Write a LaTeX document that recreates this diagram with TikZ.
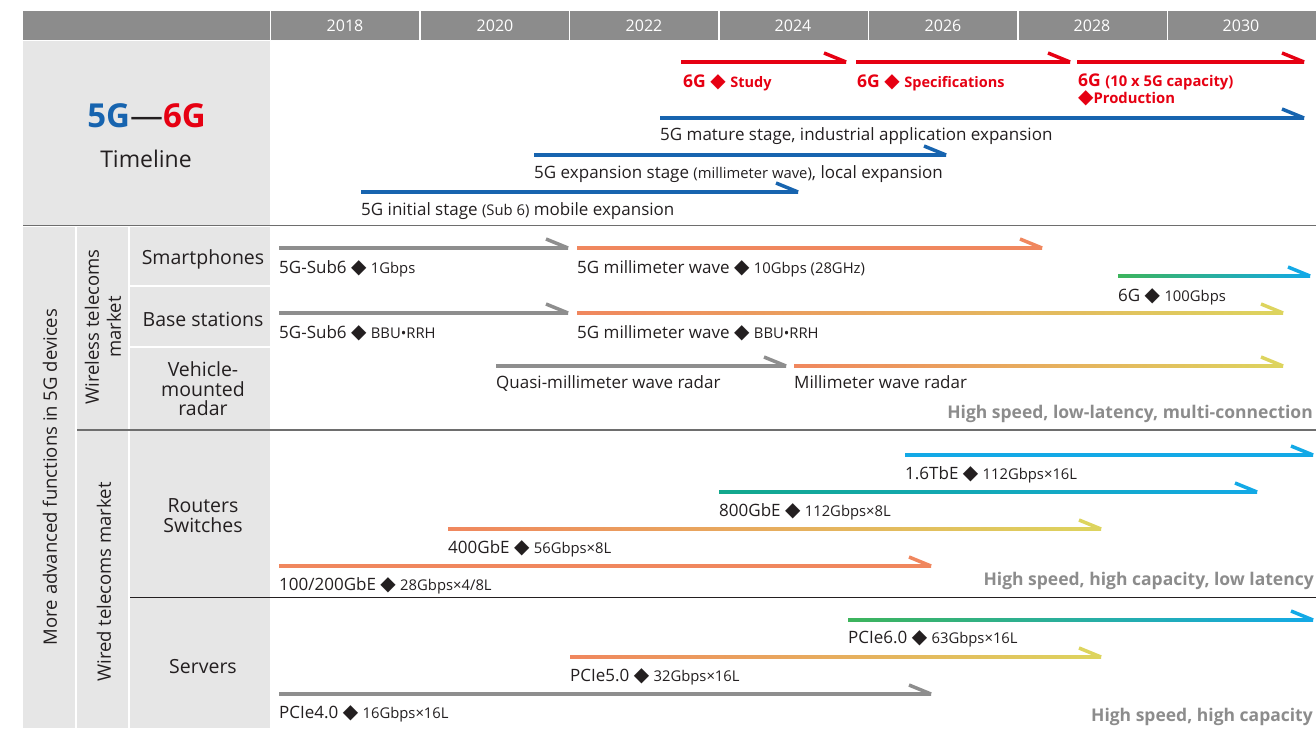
\documentclass[tikz,border=0pt]{standalone}
\usepackage{fontspec}
\setmainfont{Open Sans}
\newfontfamily\symf{DejaVu Sans}
\usetikzlibrary{calc}
\definecolor{hdr}{HTML}{8C8C8C}
\definecolor{panel}{HTML}{E6E6E6}
\definecolor{fgblue}{HTML}{1764AF}
\definecolor{fgred}{HTML}{E60012}
\definecolor{agray}{HTML}{8E8E8E}
\definecolor{aorange}{HTML}{F0875E}
\definecolor{ayellow}{HTML}{DDD45E}
\definecolor{agreen}{HTML}{3DB45C}
\definecolor{ateal}{HTML}{12A88C}
\definecolor{ablue}{HTML}{13A9E6}
\definecolor{txtgray}{HTML}{8C8C8C}
\definecolor{txt}{HTML}{231F20}
\definecolor{rule}{HTML}{6E6E6E}
\newcommand{\dm}{{\symf\fontsize{20}{15}\selectfont ◆}}
\newcommand{\sm}[1]{{\fontsize{14.8}{15}\selectfont #1}}
\newcommand{\tbar}[6]{%
  \coordinate (#1-s) at (#2,#4);
  \coordinate (#1-e) at (#3,#4);
  \shade[left color=#5,right color=#6] ($(#1-s)+(0,-1.75)$) rectangle ($(#1-e)+(0,1.75)$);
  \draw[#6,line width=3.5pt] (#1-e) -- ++(-22,-9);
}
\begin{document}
\begin{tikzpicture}[x=1pt,y=-1pt,
  lbl/.style={anchor=base west,inner sep=0pt,font=\fontsize{17}{20}\selectfont,text=txt},
  hyear/.style={text=white,font=\fontsize{16}{18}\selectfont,inner sep=0pt},
  rowlbl/.style={align=center,font=\fontsize{19.5}{20}\selectfont,text=txt,inner sep=0pt},
  redlbl/.style={anchor=base west,inner sep=0pt,font=\bfseries\fontsize{17.5}{18}\selectfont,text=fgred,align=left},
  note/.style={anchor=base east,inner sep=0pt,font=\bfseries\fontsize{17.5}{19}\selectfont,text=txtgray},
]
\useasboundingbox (0,0) rectangle (1316,728);
% header
\fill[hdr] (23,11) rectangle (1316,40);
\foreach \x in {270.5,420,569.5,719,868.5,1018,1167.5}
  \draw[white,line width=1.5pt] (\x,11) -- (\x,40);
\foreach \yr/\x in {2018/345,2020/495,2022/644,2024/793,2026/943,2028/1092,2030/1241}
  \node[hyear] (y\yr) at (\x,26) {\yr};
% left panels
\fill[panel] (23,41) rectangle (270,225);
\fill[panel] (23,227) rectangle (75,728);
\fill[panel] (77,227) rectangle (128,728);
\fill[panel] (130,227) rectangle (270,728);
\draw[white,line width=2pt] (130,286) -- (270,286);
\draw[white,line width=2pt] (130,347) -- (270,347);
\draw[rule,line width=1.5pt] (23,225.5) -- (1316,225.5);
\draw[rule,line width=1.5pt] (77,430) -- (1316,430);
\draw[txt,line width=0.8pt] (130,597) -- (1316,597);
% title
\node[font=\bfseries\fontsize{33}{36}\selectfont,anchor=base,inner sep=0pt] (title) at (146.5,127.5)
  {\textcolor{fgblue}{5G}\textcolor{txt}{\mdseries—}\textcolor{fgred}{6G}};
\node[font=\fontsize{23}{24}\selectfont,anchor=base,inner sep=0pt,text=txt] (tline) at (146,167) {Timeline};
% left labels
\node[rowlbl,rotate=90,font=\fontsize{18.5}{20}\selectfont] (more) at (50,477) {More advanced functions in 5G devices};
\node[rowlbl,rotate=90,font=\fontsize{18.5}{22}\selectfont] (wless) at (103,327) {Wireless telecoms\\market};
\node[rowlbl,rotate=90,font=\fontsize{18.5}{20}\selectfont] (wired) at (104,582) {Wired telecoms market};
\node[rowlbl] (smart) at (203,259) {Smartphones};
\node[rowlbl] (base) at (203,319) {Base stations};
\node[rowlbl,font=\fontsize{19.5}{19.5}\selectfont] (radar) at (203,389) {Vehicle-\\mounted\\radar};
\node[rowlbl,font=\fontsize{19.5}{20}\selectfont] (rout) at (203,516) {Routers\\Switches};
\node[rowlbl] (serv) at (203,667) {Servers};
% red 6G
\tbar{rA}{681}{846}{62}{fgred}{fgred}
\tbar{rB}{856}{1070}{62}{fgred}{fgred}
\tbar{rC}{1077}{1304}{62}{fgred}{fgred}
\node[redlbl] (rA-l) at ($(rA-s)+(2,25)$) {6G \dm\ {\fontsize{14.5}{16}\selectfont Study}};
\node[redlbl] (rB-l) at ($(rB-s)+(1,25)$) {6G \dm\ {\fontsize{14.5}{16}\selectfont Specifications}};
\node[redlbl,font=\bfseries\fontsize{17.5}{17}\selectfont] (rC-l) at ($(rC-s)+(1,41)$) {6G {\fontsize{14.8}{16}\selectfont (10 x 5G capacity)}\\\dm{\fontsize{14.8}{16}\selectfont Production}};
% blue 5G
\tbar{bM}{660}{1304}{118}{fgblue}{fgblue}
\tbar{bE}{534}{946}{155}{fgblue}{fgblue}
\tbar{bI}{361}{798}{192}{fgblue}{fgblue}
\node[lbl] (bM-l) at ($(bM-s)+(0,22)$) {5G mature stage, industrial application expansion};
\node[lbl] (bE-l) at ($(bE-s)+(0,23)$) {5G expansion stage \sm{(millimeter wave)}, local expansion};
\node[lbl] (bI-l) at ($(bI-s)+(0,23)$) {5G initial stage \sm{(Sub 6)} mobile expansion};
% smartphones
\tbar{s1}{279}{568}{248}{agray}{agray}
\tbar{s2}{577}{1042}{248}{aorange}{aorange}
\tbar{s3}{1118}{1310}{276}{agreen}{ablue}
\node[lbl] (s1-l) at ($(s1-s)+(0,25)$) {5G-Sub6 \dm\ \sm{1Gbps}};
\node[lbl] (s2-l) at ($(s2-s)+(0,25)$) {5G millimeter wave \dm\ \sm{10Gbps (28GHz)}};
\node[lbl] (s3-l) at ($(s3-s)+(0,25)$) {6G \dm\ \sm{100Gbps}};
% base stations
\tbar{p1}{279}{568}{313}{agray}{agray}
\tbar{p2}{577}{1283}{313}{aorange}{ayellow}
\node[lbl] (p1-l) at ($(p1-s)+(0,25)$) {5G-Sub6 \dm\ \sm{BBU•RRH}};
\node[lbl] (p2-l) at ($(p2-s)+(0,25)$) {5G millimeter wave \dm\ \sm{BBU•RRH}};
% radar
\tbar{v1}{496}{786}{366}{agray}{agray}
\tbar{v2}{794}{1283}{366}{aorange}{ayellow}
\node[lbl] (v1-l) at ($(v1-s)+(0,22)$) {Quasi-millimeter wave radar};
\node[lbl] (v2-l) at ($(v2-s)+(0,22)$) {Millimeter wave radar};
\node[note] (n1) at (1313,418) {High speed, low-latency, multi-connection};
% routers
\tbar{e1}{905}{1313}{455}{ablue}{ablue}
\tbar{e2}{719}{1257}{492}{ateal}{ablue}
\tbar{e3}{448}{1101}{529}{aorange}{ayellow}
\tbar{e4}{279}{931}{566}{aorange}{aorange}
\node[lbl] (e1-l) at ($(e1-s)+(0,24)$) {1.6TbE \dm\ \sm{112Gbps×16L}};
\node[lbl] (e2-l) at ($(e2-s)+(0,24)$) {800GbE \dm\ \sm{112Gbps×8L}};
\node[lbl] (e3-l) at ($(e3-s)+(0,24)$) {400GbE \dm\ \sm{56Gbps×8L}};
\node[lbl] (e4-l) at ($(e4-s)+(0,24)$) {100/200GbE \dm\ \sm{28Gbps×4/8L}};
\node[note] (n2) at (1314,585) {High speed, high capacity, low latency};
% servers
\tbar{c1}{848}{1313}{620}{agreen}{ablue}
\tbar{c2}{570}{1101}{657}{aorange}{ayellow}
\tbar{c3}{279}{931}{694}{agray}{agray}
\node[lbl] (c1-l) at ($(c1-s)+(0,23)$) {PCIe6.0 \dm\ \sm{63Gbps×16L}};
\node[lbl] (c2-l) at ($(c2-s)+(0,24)$) {PCIe5.0 \dm\ \sm{32Gbps×16L}};
\node[lbl] (c3-l) at ($(c3-s)+(0,24)$) {PCIe4.0 \dm\ \sm{16Gbps×16L}};
\node[note] (n3) at (1313,721) {High speed, high capacity};
\end{tikzpicture}
\end{document}
